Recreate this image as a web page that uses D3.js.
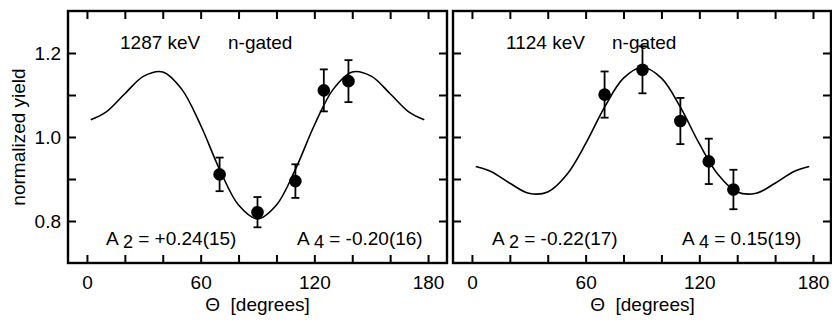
<!DOCTYPE html>
<html>
<head>
<meta charset="utf-8">
<script src="https://cdn.jsdelivr.net/npm/d3@7"></script>
<style>
  html, body { margin: 0; padding: 0; background: #fff; }
  svg { display: block; }
  text { font-family: "Liberation Sans", Arial, Helvetica, sans-serif; fill: #000; }
</style>
</head>
<body>
<svg id="chart" width="832" height="320"></svg>
<script>
// ---- data ----
const angles = [70, 90, 110, 125, 138];
const leftYield = [0.911, 0.821, 0.895, 1.111, 1.133];
const leftErr = [0.040, 0.036, 0.040, 0.050, 0.050];
const rightYield = [1.101, 1.160, 1.038, 0.942, 0.875];
const rightErr = [0.055, 0.056, 0.055, 0.054, 0.047];

const fitAngles = [2, 10, 20, 30, 40, 50, 60, 70, 80, 90, 100, 110, 120, 130, 140, 150, 160, 170, 178];
const leftFit = [1.041, 1.059, 1.103, 1.145, 1.155, 1.114, 1.028, 0.923, 0.838, 0.805, 0.838, 0.923, 1.028, 1.114, 1.155, 1.145, 1.103, 1.059, 1.041];
const rightFit = [0.930, 0.918, 0.890, 0.866, 0.869, 0.910, 0.984, 1.071, 1.140, 1.166, 1.140, 1.071, 0.984, 0.910, 0.869, 0.866, 0.890, 0.918, 0.930];

const xTicks = [0, 20, 40, 60, 80, 100, 120, 140, 160, 180];
const xTickLabels = [0, 60, 120, 180];
const yTicks = [0.8, 0.9, 1.0, 1.1, 1.2];
const yTickLabels = [0.8, 1.0, 1.2];

const panels = [
  { x0: 68, x1: 447, domain: [-10, 190], yld: leftYield, err: leftErr, fit: leftFit,
    title1: "1287 keV", title2: "n-gated", t1x: 120, t2x: 228,
    a2: "+0.24(15)", a4: "-0.20(16)", a2x: 106, a4x: 297, yLabels: true },
  { x0: 453, x1: 831, domain: [-10, 189.5], yld: rightYield, err: rightErr, fit: rightFit,
    title1: "1124 keV", title2: "n-gated", t1x: 506, t2x: 612,
    a2: "-0.22(17)", a4: "0.15(19)", a2x: 492, a4x: 682, yLabels: false }
];

const svg = d3.select("#chart");
const yTop = 11, yBot = 263;
const y = d3.scaleLinear().domain([0.7, 1.3]).range([yBot, yTop]);
const FS = 19;

panels.forEach(p => {
  const x = d3.scaleLinear().domain(p.domain).range([p.x0, p.x1]);
  const g = svg.append("g");

  // fit curve
  const line = d3.line().x(d => x(d[0])).y(d => y(d[1])).curve(d3.curveCatmullRom);
  g.append("path")
    .attr("d", line(fitAngles.map((a, i) => [a, p.fit[i]])))
    .attr("fill", "none").attr("stroke", "#000").attr("stroke-width", 1.6);

  // error bars
  const cap = 4;
  angles.forEach((a, i) => {
    const cx = x(a), yt = y(p.yld[i] + p.err[i]), yb = y(p.yld[i] - p.err[i]);
    g.append("line").attr("x1", cx).attr("x2", cx).attr("y1", yt).attr("y2", yb)
      .attr("stroke", "#000").attr("stroke-width", 1.8);
    [yt, yb].forEach(yy => g.append("line").attr("x1", cx - cap).attr("x2", cx + cap)
      .attr("y1", yy).attr("y2", yy).attr("stroke", "#000").attr("stroke-width", 1.8));
  });
  g.selectAll("circle.pt").data(angles).enter().append("circle")
    .attr("cx", d => x(d)).attr("cy", (d, i) => y(p.yld[i])).attr("r", 6.3).attr("fill", "#000");

  // axes (inward ticks)
  const tk = 8;
  const styleAxis = sel => {
    sel.select(".domain").remove();
    sel.selectAll(".tick line").attr("stroke", "#000").attr("stroke-width", 2);
    sel.selectAll("text").style("font-size", FS + "px").attr("fill", "#000")
      .style("font-family", '"Liberation Sans", Arial, Helvetica, sans-serif');
  };
  g.append("g").attr("transform", `translate(0,${yBot})`)
    .call(d3.axisBottom(x).tickValues(xTicks).tickSizeInner(-tk).tickSizeOuter(0).tickPadding(13)
      .tickFormat(d => xTickLabels.includes(d) ? d : ""))
    .call(styleAxis);
  g.append("g").attr("transform", `translate(0,${yTop})`)
    .call(d3.axisTop(x).tickValues(xTicks).tickSizeInner(-tk).tickSizeOuter(0).tickFormat(""))
    .call(styleAxis);
  g.append("g").attr("transform", `translate(${p.x0},0)`)
    .call(d3.axisLeft(y).tickValues(yTicks).tickSizeInner(-tk).tickSizeOuter(0).tickPadding(7)
      .tickFormat(d => (p.yLabels && yTickLabels.some(v => Math.abs(v - d) < 1e-9)) ? d3.format(".1f")(d) : ""))
    .call(styleAxis);
  g.append("g").attr("transform", `translate(${p.x1},0)`)
    .call(d3.axisRight(y).tickValues(yTicks).tickSizeInner(-tk).tickSizeOuter(0).tickFormat(""))
    .call(styleAxis);

  // frame
  g.append("rect").attr("x", p.x0).attr("y", yTop).attr("width", p.x1 - p.x0).attr("height", yBot - yTop)
    .attr("fill", "none").attr("stroke", "#000").attr("stroke-width", 2.4);

  // titles
  g.append("text").attr("x", p.t1x).attr("y", 49).style("font-size", FS + "px").text(p.title1);
  g.append("text").attr("x", p.t2x).attr("y", 49).style("font-size", FS + "px").text(p.title2);

  // coefficients
  const coef = (xx, sub, val) => {
    const t = g.append("text").attr("x", xx).attr("y", 245).style("font-size", FS + "px")
      .attr("xml:space", "preserve");
    t.append("tspan").text("A ");
    t.append("tspan").attr("dy", 3).style("font-size", "18px").text(sub);
    t.append("tspan").attr("dy", -3).text(" = " + val);
  };
  coef(p.a2x, "2", p.a2);
  coef(p.a4x, "4", p.a4);

  // x-axis title
  g.append("text").attr("x", (x(0) + x(180)) / 2).attr("y", 311).attr("text-anchor", "middle")
    .style("font-size", FS + "px").attr("xml:space", "preserve").style("white-space", "pre")
    .text("\u0398  [degrees]");
});

// y-axis title
svg.append("text").attr("transform", `translate(25,${(yTop + yBot) / 2}) rotate(-90)`)
  .attr("text-anchor", "middle").style("font-size", FS + "px").text("normalized yield");
</script>
</body>
</html>
